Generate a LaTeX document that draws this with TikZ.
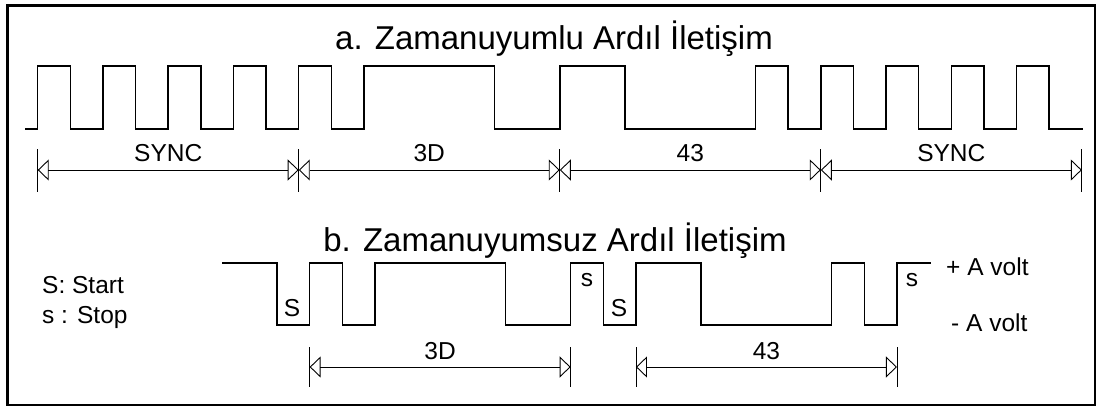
\documentclass[tikz,border=0pt]{standalone}
\usepackage{fontspec}
\setmainfont{Liberation Sans}
\usetikzlibrary{arrows.meta}
\begin{document}
\begin{tikzpicture}[x=1pt,y=-1pt,
  wave/.style={line width=1.5pt, line join=miter},
  dimline/.style={line width=0.9pt,
    {Triangle[open,length=11pt,width=21pt]}-{Triangle[open,length=11pt,width=21pt]}},
  tickline/.style={line width=0.8pt},
  lbl/.style={font=\fontsize{24.5}{28}\selectfont, inner sep=0pt, anchor=base},
  heading/.style={font=\fontsize{33}{37}\selectfont, inner sep=0pt, anchor=base},
  frame/.style={line width=2.2pt}]

% page and outer frame
\useasboundingbox (0,0) rectangle (1096,408);
\draw[frame] (7.5,5.5) rectangle (1095,405);

% ---------- a. synchronous serial ----------
\def\ta#1{{37.7+32.63*#1}}
\def\hiA{66}
\def\loA{129}
\node[heading] (titleA) at (554,49) {a. Zamanuyumlu Ardıl İletişim};

% bit stream: SYNC 10101010, 3D 10111100, 43 11000010, SYNC 10101010 (LSB first)
\draw[wave] (25,\loA) -| (\ta{0},\hiA) -| (\ta{1},\loA) -| (\ta{2},\hiA) -| (\ta{3},\loA)
  -| (\ta{4},\hiA) -| (\ta{5},\loA) -| (\ta{6},\hiA) -| (\ta{7},\loA)
  -| (\ta{8},\hiA) -| (\ta{9},\loA) -| (\ta{10},\hiA) -| (\ta{14},\loA)
  -| (\ta{16},\hiA) -| (\ta{18},\loA) -| (\ta{22},\hiA) -| (\ta{23},\loA)
  -| (\ta{24},\hiA) -| (\ta{25},\loA) -| (\ta{26},\hiA) -| (\ta{27},\loA)
  -| (\ta{28},\hiA) -| (\ta{29},\loA) -| (\ta{30},\hiA) -| (\ta{31},\loA)
  -- (1083,\loA);

% byte boundaries and dimension lines
\foreach \k/\n in {0/a0,8/a1,16/a2,24/a3,32/a4}{
  \coordinate (\n) at (\ta{\k},170);
  \draw[tickline] (\ta{\k},149) -- (\ta{\k},192);
}
\draw[dimline] (a0) -- (a1) node[pos=0.5, lbl, yshift=9pt] (syncA) {SYNC};
\draw[dimline] (a1) -- (a2) node[pos=0.5, lbl, yshift=9pt] (dA) {3D};
\draw[dimline] (a2) -- (a3) node[pos=0.5, lbl, yshift=9pt] (fA) {43};
\draw[dimline] (a3) -- (a4) node[pos=0.5, lbl, yshift=9pt] (syncB) {SYNC};

% ---------- b. asynchronous serial ----------
\def\tb#1{{277+32.63*#1}}
\def\hiB{263}
\def\loB{325}
\node[heading] (titleB) at (555,251) {b. Zamanuyumsuz Ardıl İletişim};

\node[lbl, anchor=base west] (legS) at (42,293) {S: Start};
\node[lbl, anchor=base west] (legs) at (42,323) {s : Stop};

% idle, start, 3D, stop, start, 43, stop
\draw[wave] (222,\hiB) -| (\tb{0},\loB) -| (\tb{1},\hiB) -| (\tb{2},\loB) -| (\tb{3},\hiB)
  -| (\tb{7},\loB) -| (\tb{9},\hiB) -| (\tb{10},\loB) -| (\tb{11},\hiB)
  -| (\tb{13},\loB) -| (\tb{17},\hiB) -| (\tb{18},\loB) -| (\tb{19},\hiB)
  -- (931,\hiB);

\node[lbl] (st1) at (292,316) {S};
\node[lbl] (sp1) at (587,286) {s};
\node[lbl] (st2) at (619,316) {S};
\node[lbl] (sp2) at (912,286) {s};

\node[lbl, anchor=base west] (plusA) at (946,275) {+ A volt};
\node[lbl, anchor=base west] (minusA) at (951,331) {- A volt};

\foreach \k/\n in {1/b0,9/b1,11/b2,19/b3}{
  \coordinate (\n) at (\tb{\k},367);
  \draw[tickline] (\tb{\k},347) -- (\tb{\k},387);
}
\draw[dimline] (b0) -- (b1) node[pos=0.5, lbl, yshift=8pt] (dB) {3D};
\draw[dimline] (b2) -- (b3) node[pos=0.5, lbl, yshift=8pt] (fB) {43};

\end{tikzpicture}
\end{document}
